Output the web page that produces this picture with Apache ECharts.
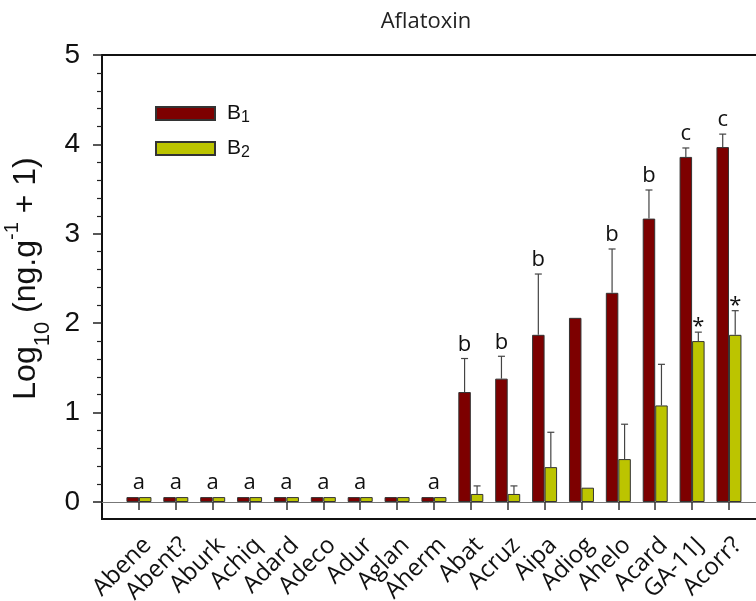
<!DOCTYPE html>
<html>
<head>
<meta charset="utf-8">
<script src="https://cdn.jsdelivr.net/npm/echarts@6/dist/echarts.min.js"></script>
<style>
html,body{margin:0;padding:0;background:#fff;}
#main{width:756px;height:601px;}
</style>
</head>
<body>
<div id="main"></div>
<script>
var categories = ['Abene','Abent?','Aburk','Achiq','Adard','Adeco','Adur','Aglan','Aherm','Abat','Acruz','Aipa','Adiog','Ahelo','Acard','GA-11J','Acorr?'];
var b1 = [0.055,0.055,0.055,0.055,0.055,0.055,0.055,0.055,0.055,1.23,1.38,1.87,2.06,2.34,3.17,3.86,3.97];
var b1Err = [0,0,0,0,0,0,0,0,0,0.375,0.25,0.68,0,0.49,0.32,0.10,0.145];
var b2 = [0.055,0.055,0.055,0.055,0.055,0.055,0.055,0.055,0.055,0.09,0.09,0.39,0.16,0.48,1.08,1.80,1.87];
var b2Err = [0,0,0,0,0,0,0,0,0,0.09,0.09,0.39,0,0.39,0.46,0.10,0.27];
var letters = ['a','a','a','a','a','a','a','','a','b','b','b','','b','b','c','c'];
var stars = ['','','','','','','','','','','','','','','','*','*'];
var yTicks = [0,1,2,3,4,5];

var BW = 12.5;
var chart = echarts.init(document.getElementById('main'));

function errRender(off){
  return function(params, api){
    var i = api.value(0), v = api.value(1), e = api.value(2);
    if (!e) return null;
    var base = api.coord([i, v]);
    var top = api.coord([i, v + e]);
    var x = base[0] + off;
    var st = {stroke:'#444', lineWidth:1.2};
    return {type:'group', children:[
      {type:'line', shape:{x1:x, y1:base[1], x2:x, y2:top[1]}, style:st},
      {type:'line', shape:{x1:x-3.5, y1:top[1], x2:x+3.5, y2:top[1]}, style:st}
    ]};
  };
}

var errData1 = categories.map(function(c,i){ return [i, b1[i], b1Err[i]]; });
var errData2 = categories.map(function(c,i){ return [i, b2[i], b2Err[i]]; });
var letterData = [];
categories.forEach(function(c,i){
  if (letters[i]) letterData.push([i, b1[i] + b1Err[i], letters[i], b1Err[i] > 0 ? -BW/2 : 0, 0]);
  if (stars[i]) letterData.push([i, b2[i] + b2Err[i], stars[i], BW/2, 1]);
});

var option = {
  animation:false,
  backgroundColor:'#fff',
  title:{text:'Aflatoxin', left:421, top:6, textAlign:'center',
    textStyle:{fontFamily:'Open Sans', fontSize:22, fontWeight:'normal', color:'#222'}},
  legend:{
    orient:'vertical', left:150, top:98, itemWidth:59, itemHeight:13, itemGap:12,
    icon:'rect',
    data:['B1','B2'],
    formatter:function(n){ return '{b|B}{s|' + n.slice(1) + '}'; },
    textStyle:{rich:{
      b:{fontFamily:'Liberation Sans', fontSize:21, color:'#111', padding:[0,0,0,7], lineHeight:25},
      s:{fontFamily:'Liberation Sans', fontSize:16, color:'#111', verticalAlign:'bottom', lineHeight:25, padding:[0,0,0,0]}
    }}
  },
  grid:[
    {left:102, right:-40, top:55, bottom:99, containLabel:false, outerBoundsMode:'none'},
    {left:102, right:-40, top:55, bottom:82, show:true, borderColor:'#111', borderWidth:2, backgroundColor:'transparent', containLabel:false, outerBoundsMode:'none'},
    {left:120.5, right:8.6, top:55, bottom:99, containLabel:false, outerBoundsMode:'none'}
  ],
  xAxis:[
    {gridIndex:0, type:'value', min:0, max:1, axisLine:{show:true, lineStyle:{color:'#777', width:1}},
      axisTick:{show:false}, axisLabel:{show:false}, splitLine:{show:false}},
    {gridIndex:1, type:'value', show:false},
    {gridIndex:2, type:'category', data:categories, offset:17,
      axisLine:{show:false},
      axisTick:{show:true, alignWithLabel:true, length:8, lineStyle:{color:'#333', width:1.5}},
      axisLabel:{rotate:45, interval:0, margin:14, fontFamily:'Open Sans', fontSize:24, color:'#111', verticalAlign:'top'}}
  ],
  yAxis:[
    {gridIndex:0, type:'value', min:0, max:5, interval:1,
      name:'{m|Log}{s|10}{m| (ng.g}{u|-1}{m| + 1)}',
      nameLocation:'middle', nameGap:45,
      nameTextStyle:{rich:{
        m:{fontFamily:'Liberation Sans', fontSize:32, color:'#111', lineHeight:40},
        s:{fontFamily:'Liberation Sans', fontSize:22, color:'#111', verticalAlign:'bottom', lineHeight:40, padding:[0,0,-7,0]},
        u:{fontFamily:'Liberation Sans', fontSize:20, color:'#111', verticalAlign:'top', lineHeight:40, padding:[-4,0,0,0]}
      }},
      axisLine:{show:false},
      axisTick:{show:true, length:9, lineStyle:{color:'#222', width:1.5}},
      minorTick:{show:true, splitNumber:5, length:5, lineStyle:{color:'#222', width:1.2}},
      axisLabel:{fontFamily:'Liberation Sans', fontSize:28, color:'#111', margin:22,
        formatter:function(v){ return yTicks.indexOf(v) >= 0 ? String(v) : ''; }},
      splitLine:{show:false}},
    {gridIndex:1, type:'value', show:false},
    {gridIndex:2, type:'value', min:0, max:5, show:false}
  ],
  series:[
    {name:'B1', type:'bar', xAxisIndex:2, yAxisIndex:2, data:b1, barWidth:BW, barGap:'0%',
      itemStyle:{color:'#7d0000', borderColor:'#333', borderWidth:1}},
    {name:'B2', type:'bar', xAxisIndex:2, yAxisIndex:2, data:b2, barWidth:BW, barGap:'0%',
      itemStyle:{color:'#bcc400', borderColor:'#333', borderWidth:1}},
    {type:'custom', xAxisIndex:2, yAxisIndex:2, data:errData1, renderItem:errRender(-BW/2), z:5, silent:true},
    {type:'custom', xAxisIndex:2, yAxisIndex:2, data:errData2, renderItem:errRender(BW/2), z:5, silent:true},
    {type:'custom', xAxisIndex:2, yAxisIndex:2, data:letterData, z:6, silent:true,
      renderItem:function(params, api){
        var i = api.value(0), v = api.value(1), t = api.value(2), off = api.value(3), isStar = api.value(4);
        var p = api.coord([i, v]);
        return {type:'text', x:p[0] + off, y:p[1] + (isStar ? 6 : -3),
          style:{text:t, align:'center', verticalAlign:'bottom', fontFamily:'Open Sans', fontSize:22, fill:'#111'}};
      }}
  ]
};
chart.setOption(option);
</script>
</body>
</html>
